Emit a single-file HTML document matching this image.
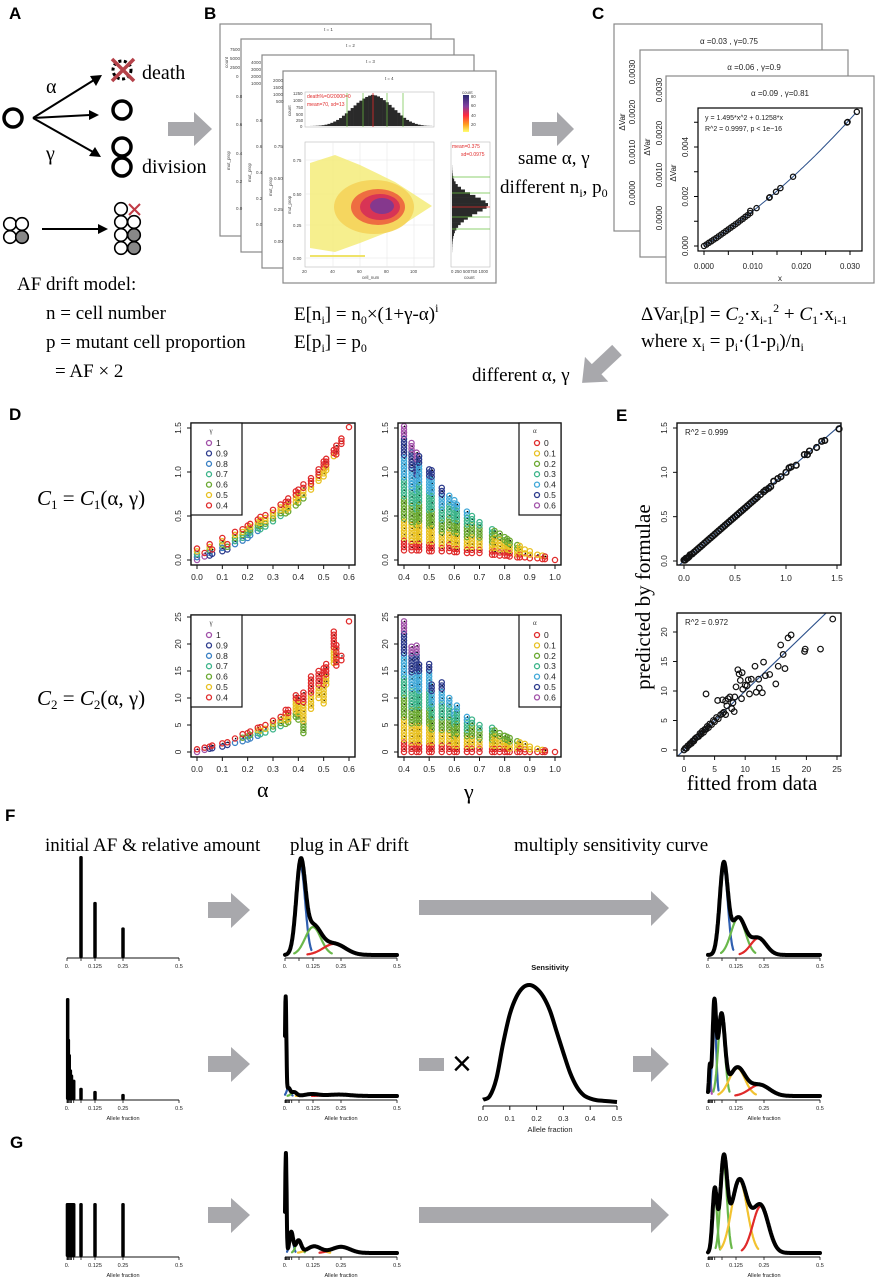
<!DOCTYPE html>
<html><head><meta charset="utf-8"><title>AF drift model figure</title>
<style>
html,body{margin:0;padding:0;background:#fff;}
svg{display:block;}
.ser{font-family:"Liberation Serif",serif;}
.san{font-family:"Liberation Sans",sans-serif;}
</style></head>
<body>
<svg id="fig" width="876" height="1280" viewBox="0 0 876 1280" xmlns="http://www.w3.org/2000/svg">
<rect x="0" y="0" width="876" height="1280" fill="#fff"/>
<g class="san" font-weight="bold" font-size="17" fill="#000">
<text x="9" y="19">A</text>
<text x="204" y="19">B</text>
<text x="592" y="19">C</text>
<text x="9" y="420">D</text>
<text x="616" y="421">E</text>
<text x="5" y="821">F</text>
<text x="10" y="1148">G</text>
</g>

<g stroke="#000" fill="none">
<circle cx="13" cy="118" r="9" stroke-width="3.5"/>
<g stroke-width="2">
<line x1="33" y1="118" x2="94" y2="80"/><polygon points="102,75 90,76 96,86" fill="#000" stroke="none"/>
<line x1="33" y1="118" x2="90" y2="115"/><polygon points="99,115 89,110 89,120" fill="#000" stroke="none"/>
<line x1="33" y1="118" x2="93" y2="152"/><polygon points="101,157 95,147 89,156" fill="#000" stroke="none"/>
</g>
<circle cx="122" cy="70" r="9" stroke-width="3" stroke-dasharray="3,2.5"/>
<line x1="112" y1="59" x2="134" y2="81" stroke="#b5424a" stroke-width="3.5"/>
<line x1="134" y1="59" x2="112" y2="81" stroke="#b5424a" stroke-width="3.5"/>
<circle cx="122" cy="110" r="9" stroke-width="3.5"/>
<circle cx="122" cy="147" r="9" stroke-width="3.5"/>
<circle cx="122" cy="167" r="9" stroke-width="3.5"/>
<g stroke-width="1.6">
<circle cx="10" cy="224" r="6.3" fill="#fff"/><circle cx="22" cy="224" r="6.3" fill="#fff"/>
<circle cx="10" cy="237" r="6.3" fill="#fff"/><circle cx="22" cy="237" r="6.3" fill="#888"/>
</g>
<line x1="42" y1="229" x2="100" y2="229" stroke-width="2"/>
<polygon points="108,229 98,224 98,234" fill="#000" stroke="none"/>
<g stroke-width="1.6">
<circle cx="121" cy="209" r="6.3" fill="#fff"/>
<circle cx="121" cy="222" r="6.3" fill="#fff"/><circle cx="134" cy="222" r="6.3" fill="#fff"/>
<circle cx="121" cy="235" r="6.3" fill="#fff"/><circle cx="134" cy="235" r="6.3" fill="#888"/>
<circle cx="121" cy="248" r="6.3" fill="#fff"/><circle cx="134" cy="248" r="6.3" fill="#888"/>
<line x1="129" y1="204" x2="140" y2="215" stroke="#c03a45" stroke-width="2"/>
<line x1="140" y1="204" x2="129" y2="215" stroke="#c03a45" stroke-width="2"/>
</g>
</g>
<g class="ser" font-size="20" fill="#000">
<text x="46" y="93">α</text>
<text x="46" y="160">γ</text>
<text x="142" y="79">death</text>
<text x="142" y="173">division</text>
<text x="17" y="290" font-size="19">AF drift model:</text>
<text x="46" y="319" font-size="19">n = cell number</text>
<text x="46" y="348" font-size="19">p = mutant cell proportion</text>
<text x="55" y="377" font-size="19">= AF × 2</text>
</g>

<g fill="#a8a8ac">
<polygon points="168,122 194,122 194,112 212,129 194,146 194,136 168,136"/>
<polygon points="532,122 557,122 557,112 574,129 557,146 557,136 532,136"/>
<polygon points="0,-7 28,-7 28,-17 48,0 28,17 28,7 0,7" transform="translate(617,350) rotate(136.7)"/>
<polygon points="208,902 231,902 231,893 250,910 231,928 231,918 208,918"/>
<polygon points="419,900 651,900 651,891 669,908 651,926 651,915 419,915"/>
<polygon points="208,1056 231,1056 231,1047 250,1064 231,1082 231,1072 208,1072"/>
<rect x="419" y="1058" width="25" height="13"/>
<polygon points="633,1056 651,1056 651,1047 669,1064 651,1082 651,1072 633,1072"/>
<polygon points="208,1207 231,1207 231,1198 250,1215 231,1233 231,1223 208,1223"/>
<polygon points="419,1207 651,1207 651,1198 669,1215 651,1233 651,1223 419,1223"/>
</g>

<g>
<rect x="220" y="24" width="211" height="212" fill="#fff" stroke="#888" stroke-width="1.2"/>
<rect x="241" y="39" width="213" height="213" fill="#fff" stroke="#888" stroke-width="1.2"/>
<rect x="262" y="55" width="212" height="213" fill="#fff" stroke="#888" stroke-width="1.2"/>
<rect x="283" y="71" width="213" height="212" fill="#fff" stroke="#888" stroke-width="1.2"/>
<g class="san" font-size="4.5" fill="#444">
<text x="324" y="31">t = 1</text><text x="346" y="47">t = 2</text><text x="366" y="63">t = 3</text>
<text x="230" y="51">7500</text><text x="230" y="60">5000</text><text x="230" y="69">2500</text><text x="236" y="78">0</text>
<text x="236" y="98">0.8</text><text x="236" y="126">0.6</text><text x="236" y="155">0.4</text><text x="236" y="183">0.2</text><text x="236" y="210">0.0</text>
<text x="251" y="64">4000</text><text x="251" y="71">3000</text><text x="251" y="78">2000</text><text x="251" y="85">1000</text>
<text x="256" y="122">0.8</text><text x="256" y="148">0.6</text><text x="256" y="174">0.4</text><text x="256" y="200">0.2</text><text x="256" y="226">0.0</text>
<text x="273" y="82">2000</text><text x="273" y="89">1500</text><text x="273" y="96">1000</text><text x="276" y="103">500</text>
<text x="274" y="148">0.75</text><text x="274" y="180">0.50</text><text x="274" y="211">0.25</text><text x="274" y="243">0.00</text>
<text x="230" y="170" transform="rotate(-90 230 170)">mut_prop</text>
<text x="251" y="182" transform="rotate(-90 251 182)">mut_prop</text>
<text x="272" y="196" transform="rotate(-90 272 196)">mut_prop</text>
<text x="228" y="68" transform="rotate(-90 228 68)">count</text>
</g>
<rect x="305" y="92" width="129" height="35" fill="#fff" stroke="#bbb" stroke-width="0.6"/>
<g id="bHist"></g>
<rect x="305" y="142" width="129" height="125" fill="#fff" stroke="#bbb" stroke-width="0.6"/>
<g stroke="#e6e6e6" stroke-width="0.6">
<line x1="333" y1="142" x2="333" y2="267"/><line x1="360" y1="142" x2="360" y2="267"/><line x1="387" y1="142" x2="387" y2="267"/><line x1="414" y1="142" x2="414" y2="267"/>
<line x1="305" y1="160" x2="434" y2="160"/><line x1="305" y1="194" x2="434" y2="194"/><line x1="305" y1="225" x2="434" y2="225"/><line x1="305" y1="258" x2="434" y2="258"/>
</g>
<g>
<polygon points="310,163 335,155 360,165 395,182 432,206 398,228 360,243 335,252 310,248" fill="#f4ec7a" opacity="0.85"/>
<rect x="310" y="255" width="55" height="2" fill="#efe36a"/>
<ellipse cx="374" cy="207" rx="40" ry="27" fill="#f5d35a" opacity="0.9"/>
<ellipse cx="378" cy="207" rx="27" ry="18" fill="#ec5a3c" opacity="0.85"/>
<ellipse cx="380" cy="207" rx="20" ry="13" fill="#d2265a" opacity="0.8"/>
<ellipse cx="382" cy="206" rx="12" ry="8" fill="#6a3aa0" opacity="0.75"/>
</g>
<rect x="451" y="142" width="39" height="125" fill="#fff" stroke="#bbb" stroke-width="0.6"/>
<g id="bHist2"></g>
<defs><linearGradient id="cbar" x1="0" y1="0" x2="0" y2="1"><stop offset="0" stop-color="#2a2a70"/><stop offset="0.3" stop-color="#8040a0"/><stop offset="0.55" stop-color="#ff2a40"/><stop offset="0.8" stop-color="#ffa020"/><stop offset="1" stop-color="#ffff70"/></linearGradient></defs>
<rect x="463" y="95" width="6" height="37" fill="url(#cbar)"/>
<g class="san" font-size="4.3" fill="#444">
<text x="462" y="94">count</text><text x="471" y="98">80</text><text x="471" y="107">60</text><text x="471" y="117">40</text><text x="471" y="126">20</text>
<text x="293" y="95">1250</text><text x="293" y="102">1000</text><text x="296" y="109">750</text><text x="296" y="116">500</text><text x="296" y="122">250</text><text x="300" y="128">0</text>
<text x="293" y="162">0.75</text><text x="293" y="196">0.50</text><text x="293" y="227">0.25</text><text x="293" y="260">0.00</text>
<text x="302" y="273">20</text><text x="330" y="273">40</text><text x="357" y="273">60</text><text x="384" y="273">80</text><text x="410" y="273">100</text>
<text x="362" y="279">cell_num</text><text x="464" y="279">count</text>
<text x="451" y="273">0  250 500750 1000</text>
<text x="291" y="214" transform="rotate(-90 291 214)">mut_prop</text>
<text x="291" y="116" transform="rotate(-90 291 116)">count</text>
<text x="385" y="80" fill="#333">t = 4</text>
</g>
<g class="san" font-size="5" fill="#e02a2a">
<text x="307" y="98">death%=0/20000=0</text><text x="307" y="106">mean=70, sd=13</text>
<text x="452" y="148">mean=0.375</text><text x="461" y="156">sd=0.0975</text>
</g>
</g>
<g class="ser" font-size="19" fill="#000">
<text x="294" y="320">E[n<tspan font-size="12" dy="4">i</tspan><tspan dy="-4">] = n</tspan><tspan font-size="12" dy="4">0</tspan><tspan dy="-4">×(1+γ-α)</tspan><tspan font-size="12" dy="-8">i</tspan></text>
<text x="294" y="348">E[p<tspan font-size="12" dy="4">i</tspan><tspan dy="-4">] = p</tspan><tspan font-size="12" dy="4">0</tspan></text>
<text x="518" y="164">same α, γ</text>
<text x="500" y="193">different n<tspan font-size="12" dy="4">i</tspan><tspan dy="-4">, p</tspan><tspan font-size="12" dy="4">0</tspan></text>
<text x="641" y="320">ΔVar<tspan font-size="12" dy="4">i</tspan><tspan dy="-4">[p] = </tspan><tspan font-style="italic">C</tspan><tspan font-size="12" dy="4">2</tspan><tspan dy="-4">·x</tspan><tspan font-size="12" dy="4">i-1</tspan><tspan font-size="12" dy="-12">2</tspan><tspan dy="8"> + </tspan><tspan font-style="italic">C</tspan><tspan font-size="12" dy="4">1</tspan><tspan dy="-4">·x</tspan><tspan font-size="12" dy="4">i-1</tspan></text>
<text x="641" y="347">where x<tspan font-size="12" dy="4">i</tspan><tspan dy="-4"> = p</tspan><tspan font-size="12" dy="4">i</tspan><tspan dy="-4">·(1-p</tspan><tspan font-size="12" dy="4">i</tspan><tspan dy="-4">)/n</tspan><tspan font-size="12" dy="4">i</tspan></text>
<text x="472" y="381">different α, γ</text>
<text x="37" y="505" font-size="21"><tspan font-style="italic">C</tspan><tspan font-size="13" dy="4">1</tspan><tspan dy="-4"> = </tspan><tspan font-style="italic">C</tspan><tspan font-size="13" dy="4">1</tspan><tspan dy="-4">(α, γ)</tspan></text>
<text x="37" y="705" font-size="21"><tspan font-style="italic">C</tspan><tspan font-size="13" dy="4">2</tspan><tspan dy="-4"> = </tspan><tspan font-style="italic">C</tspan><tspan font-size="13" dy="4">2</tspan><tspan dy="-4">(α, γ)</tspan></text>
<text x="257" y="797" font-size="22">α</text>
<text x="464" y="799" font-size="22">γ</text>
<text x="752" y="790" font-size="21" text-anchor="middle">fitted from data</text>
<text x="650" y="597" font-size="21" text-anchor="middle" transform="rotate(-90 650 597)">predicted by formulae</text>
<text x="45" y="851" font-size="19">initial AF &amp; relative amount</text>
<text x="290" y="851" font-size="19">plug in AF drift</text>
<text x="514" y="851" font-size="19">multiply sensitivity curve</text>
</g>
<text x="452" y="1075" class="san" font-size="34" fill="#000">×</text>

<g>
<rect x="614" y="24" width="208" height="207" fill="#fff" stroke="#888" stroke-width="1.2"/>
<rect x="640" y="50" width="208" height="207" fill="#fff" stroke="#888" stroke-width="1.2"/>
<rect x="666" y="76" width="208" height="207" fill="#fff" stroke="#888" stroke-width="1.2"/>
<g class="san" font-size="8" fill="#222">
<text x="729" y="44" text-anchor="middle">α =0.03 , γ=0.75</text>
<text x="754" y="70" text-anchor="middle">α =0.06 , γ=0.9</text>
<text x="780" y="96" text-anchor="middle">α =0.09 , γ=0.81</text>
<text x="635" y="72" text-anchor="middle" transform="rotate(-90 635 72)">0.0030</text>
<text x="635" y="112" text-anchor="middle" transform="rotate(-90 635 112)">0.0020</text>
<text x="635" y="152" text-anchor="middle" transform="rotate(-90 635 152)">0.0010</text>
<text x="635" y="193" text-anchor="middle" transform="rotate(-90 635 193)">0.0000</text>
<text x="625" y="122" text-anchor="middle" transform="rotate(-90 625 122)">ΔVar</text>
<text x="662" y="90" text-anchor="middle" transform="rotate(-90 662 90)">0.0030</text>
<text x="662" y="133" text-anchor="middle" transform="rotate(-90 662 133)">0.0020</text>
<text x="662" y="175" text-anchor="middle" transform="rotate(-90 662 175)">0.0010</text>
<text x="662" y="218" text-anchor="middle" transform="rotate(-90 662 218)">0.0000</text>
<text x="650" y="147" text-anchor="middle" transform="rotate(-90 650 147)">ΔVar</text>
<text x="676" y="173" text-anchor="middle" transform="rotate(-90 676 173)">ΔVar</text>
<text x="780" y="281" text-anchor="middle">x</text>
<text x="705" y="120" font-size="7">y = 1.495*x^2 + 0.1258*x</text>
<text x="705" y="131" font-size="7">R^2 = 0.9997, p &lt; 1e−16</text>
</g>
<g id="cPlot"></g>
</g>

<g id="dPlots"></g>
<g id="ePlots"></g>
<g id="fPlots"></g>
</svg>

<script>
const bHistCounts=[2,5,10,18,30,50,80,120,170,230,300,390,480,580,680,780,880,960,1040,1100,1150,1180,1160,1120,1060,980,900,800,700,600,500,400,310,230,170,120,80,50,30,15,8,4];
const bPropCounts=[3,5,8,14,22,35,55,80,120,170,240,330,440,560,700,850,960,1000,930,800,650,500,360,250,160,100,60,35,18,10,5,3];
const cX=[0,0.0005,0.001,0.0015,0.002,0.0025,0.003,0.0035,0.004,0.0045,0.005,0.0055,0.006,0.0065,0.007,0.0075,0.008,0.0085,0.009,0.0095,0.0095,0.0108,0.0134,0.0135,0.0148,0.0157,0.0183,0.0294,0.0295,0.0314];
const cY=[0,0.00006,0.00013,0.00019,0.00026,0.00032,0.00039,0.00046,0.00053,0.0006,0.00067,0.00074,0.00081,0.00088,0.00095,0.00103,0.0011,0.00118,0.00125,0.00133,0.00142,0.00153,0.00195,0.00197,0.00219,0.00234,0.0028,0.00499,0.00501,0.00542];
const cFitCoef=[1.495,0.1258];
const cXTicks=[0,0.01,0.02,0.03];
const cXTickLabels=["0.000","0.010","0.020","0.030"];
const cYTicks=[0,0.002,0.004];
const cYTickLabels=["0.000","0.002","0.004"];

const gammaLevels=["1","0.9","0.8","0.7","0.6","0.5","0.4"];
const alphaLevels=["0","0.1","0.2","0.3","0.4","0.5","0.6"];
const dAlpha=[0,0.03,0.05,0.06,0.1,0.12,0.15,0.18,0.2,0.21,0.24,0.25,0.27,0.3,0.33,0.35,0.36,0.39,0.4,0.42,0.45,0.48,0.5,0.51,0.54,0.55,0.57,0.6];
const c1AlphaLo=[0,0.04,0.05,0.07,0.1,0.12,0.18,0.22,0.25,0.28,0.33,0.35,0.38,0.44,0.5,0.53,0.55,0.62,0.65,0.7,0.8,0.9,0.95,1.02,1.18,1.2,1.32,1.51];
const c1AlphaHi=[0.13,0.08,0.18,0.12,0.25,0.18,0.32,0.35,0.39,0.41,0.46,0.49,0.51,0.57,0.63,0.66,0.7,0.78,0.8,0.86,0.93,1.03,1.12,1.15,1.25,1.3,1.38,1.51];
const c2AlphaLo=[0,0.4,0.6,0.7,1,1.3,1.7,2,2.3,2.5,3,3.3,3.6,4.2,4.8,5.2,5.5,6.5,6,3.5,8,10,9,12.5,16.5,16,17,24.2];
const c2AlphaHi=[0.5,0.8,1,1.2,1.6,1.8,2.5,3.3,3.5,3.8,4.5,4.6,5,5.8,6.5,7.8,7.8,10.5,10,11,14,15,15.5,16.3,22.3,19.8,17.8,24.2];
const dGamma=[0.4,0.43,0.45,0.46,0.5,0.51,0.55,0.58,0.6,0.61,0.65,0.67,0.7,0.75,0.76,0.78,0.8,0.81,0.82,0.85,0.86,0.88,0.9,0.93,0.95,0.96,1.0];
const c1GammaHi=[1.52,1.33,1.22,1.18,1.03,1.02,0.82,0.73,0.68,0.63,0.55,0.5,0.43,0.35,0.33,0.3,0.26,0.24,0.22,0.17,0.16,0.12,0.1,0.06,0.05,0.04,0];
const c1GammaLo=[0.11,0.11,0.11,0.11,0.1,0.1,0.1,0.1,0.09,0.09,0.08,0.08,0.08,0.06,0.06,0.05,0.05,0.05,0.04,0.03,0.03,0.03,0.02,0.02,0.01,0.01,0];
const c2GammaHi=[24.2,19.5,19.7,16.2,16.3,12.5,12.9,10,7.5,8.6,6.5,6,5,4.5,4,3.5,3,2.8,2.6,2,1.8,1.5,1,0.6,0.4,0.3,0];
const c2GammaLo=[0,0,0,0,0,0,0,0,0,0,0,0,0,0,0,0,0,0,0,0,0,0,0,0,0,0,0];
const dAlphaTicks=[0,0.1,0.2,0.3,0.4,0.5,0.6];
const dGammaTicks=[0.4,0.5,0.6,0.7,0.8,0.9,1.0];
const c1Ticks=[0,0.5,1.0,1.5];
const c1TickLabels=["0.0","0.5","1.0","1.5"];
const c2Ticks=[0,5,10,15,20,25];

const e1Fit=[0,0.01,0.02,0.03,0.04,0.05,0.06,0.08,0.1,0.12,0.14,0.16,0.18,0.2,0.22,0.24,0.26,0.28,0.3,0.32,0.34,0.36,0.38,0.4,0.42,0.44,0.46,0.48,0.5,0.52,0.54,0.56,0.58,0.6,0.62,0.64,0.66,0.68,0.7,0.72,0.75,0.78,0.8,0.83,0.85,0.88,0.92,0.95,1.0,1.03,1.05,1.1,1.18,1.21,1.23,1.3,1.35,1.38,1.52];
const e1Pred=[0.01,0.01,0.03,0.03,0.04,0.05,0.07,0.08,0.1,0.12,0.14,0.16,0.18,0.2,0.22,0.24,0.26,0.28,0.3,0.32,0.34,0.36,0.38,0.4,0.42,0.44,0.46,0.48,0.5,0.52,0.54,0.56,0.58,0.6,0.62,0.64,0.66,0.68,0.7,0.72,0.75,0.78,0.8,0.82,0.84,0.9,0.93,0.95,1.0,1.05,1.06,1.08,1.2,1.2,1.24,1.28,1.35,1.36,1.49];
const e2Fit=[0,0.2,0.4,0.6,0.8,1,1.2,1.4,1.6,1.8,2,2.2,2.4,2.6,2.8,3,3.2,3.4,3.6,3.8,4,4.2,4.5,4.8,5,5.3,5.6,6,6.3,6.5,3.6,5.5,6.3,6.8,7,7.2,7.5,8,8.2,8.5,8.8,9,9.2,9.5,9.6,10,10.3,10.5,11,11.6,11.8,12.3,12.8,13,13.3,14,15,15.4,15.8,16.2,16.5,17,17.5,19.7,19.8,22.3,24.3,6.8,7.8,8.3,9.4,10.7,12.2];
const e2Pred=[0,0.3,0.3,0.7,0.8,1.1,1.1,1.5,1.5,1.9,2.1,2.2,2.3,2.8,2.7,3.2,3,3.5,3.5,4,3.8,4.4,4.3,5,4.8,5.5,5.3,6,6.2,6.4,9.5,8.4,8.5,8.3,7.5,8.7,9,8,6.5,10.7,13.6,12.9,11.8,13.1,10.3,11,10.9,11.9,12,14.2,9.8,10.5,9.7,14.9,12.6,12.8,11.2,14.2,17.8,16.2,13.8,19,19.5,16.7,17.1,17.1,22.2,6,7,9,8.7,9.5,12];
const e1Ticks=[0,0.5,1.0,1.5];
const e1TickLabels=["0.0","0.5","1.0","1.5"];
const e2XTicks=[0,5,10,15,20,25];
const e2YTicks=[0,5,10,15,20];

const fBarAF1=[0.0625,0.125,0.25];
const fBarH1=[1,0.55,0.3];
const fBarAF2=[0.003,0.006,0.01,0.015,0.02,0.03,0.0625,0.125,0.25];
const fBarH2=[1,0.6,0.45,0.3,0.25,0.2,0.12,0.09,0.06];
const gBarAF=[0.002,0.004,0.006,0.008,0.01,0.013,0.016,0.02,0.025,0.03,0.0625,0.125,0.25];
const gBarH=[1,1,1,1,1,1,1,1,1,1,1,1,1];
const fRug2=[0.003,0.006,0.01,0.015,0.02,0.03];
const afTicks=[0,0.125,0.25,0.5];
const afTickLabels=["0.","0.125","0.25","0.5"];
const colBlue="#2f5fb0",colGreen="#6ab84a",colRed="#e02a2a",colYellow="#f2c230",colPurple="#b050b0";
const f2Mean=[0.07,0.125,0.22], f2Sd=[0.02,0.035,0.05], f2Amp=[0.95,0.3,0.12];
const f2Col=[colBlue,colGreen,colRed];
const f3Mean=[0.07,0.135,0.225], f3Sd=[0.018,0.032,0.035], f3Amp=[0.95,0.4,0.18];
const f5Mean=[0.003,0.015,0.04,0.12,0.24], f5Sd=[0.003,0.008,0.012,0.03,0.05], f5Amp=[1,0.08,0.04,0.02,0.015];
const f5Col=[colPurple,colBlue,colGreen,colYellow,colRed];
const f6Mean=[0.008,0.028,0.06,0.13,0.23], f6Sd=[0.004,0.008,0.015,0.035,0.045], f6Amp=[0.3,0.95,0.85,0.3,0.12];
const g2Mean=[0.004,0.028,0.06,0.13,0.25], g2Sd=[0.003,0.008,0.012,0.03,0.04], g2Amp=[1.05,0.22,0.13,0.07,0.065];
const g3Mean=[0.03,0.07,0.14,0.235], g3Sd=[0.01,0.015,0.035,0.035], g3Amp=[0.6,0.85,0.7,0.45];
const g3Col=[colGreen,colGreen,colYellow,colRed];
const sensAF=[0,0.025,0.05,0.075,0.1,0.125,0.15,0.175,0.2,0.225,0.25,0.275,0.3,0.325,0.35,0.375,0.4,0.425,0.45,0.475,0.5];
const sensVal=[0.02,0.05,0.2,0.5,0.75,0.9,0.98,1.0,0.97,0.9,0.78,0.6,0.42,0.25,0.13,0.06,0.03,0.015,0.01,0.005,0.0];
const sensTicks=[0,0.1,0.2,0.3,0.4,0.5];
const sensTickLabels=["0.0","0.1","0.2","0.3","0.4","0.5"];

const NS="http://www.w3.org/2000/svg";
function mk(tag,attrs,parent){const e=document.createElementNS(NS,tag);for(const k in attrs)e.setAttribute(k,attrs[k]);parent.appendChild(e);return e;}
function lin(d0,d1,r0,r1){return v=>r0+(v-d0)/(d1-d0)*(r1-r0);}
const gPal=["#a050a8","#2c3a8c","#3a80c4","#3cb48a","#6aa830","#e8c020","#e02a2a"];
const aPal=["#e02a2a","#e8c020","#6aa830","#3cb48a","#40a8d8","#2c3a8c","#a050a8"];

const bH=document.getElementById("bHist");
const bx=lin(0,bHistCounts.length,310,432), by=lin(0,1250,126,93);
bHistCounts.forEach((v,i)=>{
  const r=mk("rect",{x:bx(i),y:by(v),width:(122/bHistCounts.length)+0.3,height:126-by(v),fill:"#2a2a2a"},bH);
  
  
});
[347,363,387,403].forEach(x=>{
  const l=mk("line",{x1:x,y1:93,x2:x,y2:127,stroke:"#6ac040","stroke-width":0.7},bH);
  
  
});
const rl=mk("line",{x1:373,y1:93,x2:373,y2:127,stroke:"#e02a2a","stroke-width":0.8},bH);


const bH2=document.getElementById("bHist2");
const py=lin(0,bPropCounts.length,252,165), px=lin(0,1000,452,488);
bPropCounts.forEach((v,i)=>{
  const r=mk("rect",{x:452,y:py(i+1),width:px(v)-452,height:(87/bPropCounts.length)+0.3,fill:"#2a2a2a"},bH2);
  
  
});
[177,193,207,217,229].forEach(y=>{
  const l=mk("line",{x1:452,y1:y,x2:490,y2:y,stroke:y===207?"#e02a2a":"#6ac040","stroke-width":0.7},bH2);
  
  
});

const cG=document.getElementById("cPlot");
const cx=lin(0,0.03,704,850), cy=lin(0,0.004,246,147);
const cBox=mk("rect",{x:698,y:108,width:164,height:143,fill:"none",stroke:"#000","stroke-width":1.2},cG);


cXTicks.forEach((t,i)=>{
  mk("line",{x1:cx(t),y1:251,x2:cx(t),y2:255,stroke:"#000"},cG);
  const tx=mk("text",{x:cx(t),y:269,"font-size":8,"text-anchor":"middle","font-family":"Liberation Sans, sans-serif",fill:"#222"},cG);
  tx.textContent=cXTickLabels[i];
  
  
});
[0.005,0.015,0.025].forEach(t=>mk("line",{x1:cx(t),y1:251,x2:cx(t),y2:255,stroke:"#000"},cG));
[0,0.001,0.002,0.003,0.004,0.005].forEach(t=>mk("line",{x1:694,y1:cy(t),x2:698,y2:cy(t),stroke:"#000"},cG));
cYTicks.forEach((t,i)=>{
  const tx=mk("text",{x:688,y:cy(t),"font-size":8,"text-anchor":"middle","font-family":"Liberation Sans, sans-serif",fill:"#222",transform:`rotate(-90 688 ${cy(t)})`},cG);
  tx.textContent=cYTickLabels[i];
  
  
});
let cd="";
for(let x=0;x<=0.0316;x+=0.0004){cd+=(cd?"L":"M")+cx(x).toFixed(1)+","+cy(cFitCoef[0]*x*x+cFitCoef[1]*x).toFixed(1);}
const cLine=mk("path",{d:cd,fill:"none",stroke:"#2a4f8a","stroke-width":1},cG);


cX.forEach((x,i)=>{
  const p=mk("circle",{cx:cx(x),cy:cy(cY[i]),r:2.6,fill:"none",stroke:"#111","stroke-width":1.3},cG);
  
  
});

const dG=document.getElementById("dPlots");
function dAxes(x0,x1,y0,y1,xs,ys,xt,xtl,yt,ytl,name){
  const b=mk("rect",{x:x0,y:y0,width:x1-x0,height:y1-y0,fill:"none",stroke:"#111","stroke-width":1.4},dG);
  
  
  xt.forEach((t,i)=>{
    mk("line",{x1:xs(t),y1:y1,x2:xs(t),y2:y1+4,stroke:"#111"},dG);
    const tx=mk("text",{x:xs(t),y:y1+15,"font-size":8.5,"text-anchor":"middle","font-family":"Liberation Sans, sans-serif",fill:"#222"},dG);
    tx.textContent=xtl[i];
    
    
  });
  yt.forEach((t,i)=>{
    mk("line",{x1:x0-4,y1:ys(t),x2:x0,y2:ys(t),stroke:"#111"},dG);
    const tx=mk("text",{x:x0-10,y:ys(t),"font-size":8.5,"text-anchor":"middle","font-family":"Liberation Sans, sans-serif",fill:"#222",transform:`rotate(-90 ${x0-10} ${ys(t)})`},dG);
    tx.textContent=ytl[i];
    
    
  });
}
function dLegend(x0,x1,y0,y1,title,labels,pal,name){
  const b=mk("rect",{x:x0,y:y0,width:x1-x0,height:y1-y0,fill:"#fff",stroke:"#111","stroke-width":1.2},dG);
  
  
  const t=mk("text",{x:x0+(x1-x0)/2-7,y:y0+10,"font-size":7,"font-family":"Liberation Serif, serif",fill:"#333"},dG);
  t.textContent=title;
  labels.forEach((l,i)=>{
    const c=mk("circle",{cx:x0+18,cy:y0+20+i*10.4,r:2.5,fill:"none",stroke:pal[i],"stroke-width":1.3},dG);
    
    
    const tx=mk("text",{x:x0+25,y:y0+23+i*10.4,"font-size":8.5,"font-family":"Liberation Sans, sans-serif",fill:"#222"},dG);
    tx.textContent=l;
    
    
  });
}
function dColumns(xs,ys,xv,lo,hi,colorFn,name){
  xv.forEach((x,i)=>{
    const yLo=ys(lo[i]), yHi=ys(hi[i]);
    const n=Math.max(1,Math.round((yLo-yHi)/3.2)+1);
    for(let k=0;k<n;k++){
      const t=n===1?1:k/(n-1);
      const y=yLo+(yHi-yLo)*t;
      const c=mk("circle",{cx:xs(x),cy:y,r:2.6,fill:"none",stroke:colorFn(x,t),"stroke-width":1.3},dG);
      
      
      if(k%2===1){mk("circle",{cx:xs(x)+0.6,cy:y,r:0.75,fill:"#000"},dG);}
    }
  });
}
const alphaColor=(a,t)=>{const b=Math.min(6,Math.round(a/0.6*6));return gPal[Math.round(b+t*(6-b))];};
const gammaColor=(g,t)=>{const top=Math.max(0,Math.round((1-g)/0.6*6));return aPal[Math.round(t*top)];};
const ax1=lin(0,0.6,197,349), ax2=lin(0.4,1.0,404,555);
const yc1a=lin(0,1.5,560,428), yc2a=lin(0,25,752,617);
dColumns(ax1,yc1a,dAlpha,c1AlphaLo,c1AlphaHi,alphaColor,"c1-alpha");
dColumns(ax2,yc1a,dGamma,c1GammaLo,c1GammaHi,gammaColor,"c1-gamma");
dColumns(ax1,yc2a,dAlpha,c2AlphaLo,c2AlphaHi,alphaColor,"c2-alpha");
dColumns(ax2,yc2a,dGamma,c2GammaLo,c2GammaHi,gammaColor,"c2-gamma");
const aLab=dAlphaTicks.map(v=>v.toFixed(1)), gLab=dGammaTicks.map(v=>v.toFixed(1));
dAxes(191,355,423,565,ax1,yc1a,dAlphaTicks,aLab,c1Ticks,c1TickLabels,"c1-vs-alpha");
dAxes(398,561,423,565,ax2,yc1a,dGammaTicks,gLab,c1Ticks,c1TickLabels,"c1-vs-gamma");
dAxes(191,355,615,757,ax1,yc2a,dAlphaTicks,aLab,c2Ticks,c2Ticks.map(String),"c2-vs-alpha");
dAxes(398,561,615,757,ax2,yc2a,dGammaTicks,gLab,c2Ticks,c2Ticks.map(String),"c2-vs-gamma");
dLegend(191,242,423,515,"γ",gammaLevels,gPal,"c1-alpha-legend");
dLegend(519,561,423,515,"α",alphaLevels,aPal,"c1-gamma-legend");
dLegend(191,242,615,707,"γ",gammaLevels,gPal,"c2-alpha-legend");
dLegend(519,561,615,707,"α",alphaLevels,aPal,"c2-gamma-legend");

const eG=document.getElementById("ePlots");
function ePlot(x0,x1,y0,y1,xs,ys,fit,pred,xt,xtl,yt,ytl,label,name,maxV,sw){
  const clip=mk("clipPath",{id:name+"-clip"},eG);
  mk("rect",{x:x0,y:y0,width:x1-x0,height:y1-y0},clip);
  const ln=mk("line",{x1:xs(-1),y1:ys(-1),x2:xs(maxV),y2:ys(maxV),stroke:"#2a4f8a","stroke-width":1.1,"clip-path":`url(#${name}-clip)`},eG);
  
  
  fit.forEach((f,i)=>{
    const c=mk("circle",{cx:xs(f),cy:ys(pred[i]),r:2.8,fill:"none",stroke:"#111","stroke-width":sw},eG);
    
    
  });
  const b=mk("rect",{x:x0,y:y0,width:x1-x0,height:y1-y0,fill:"none",stroke:"#111","stroke-width":1.4},eG);
  
  
  xt.forEach((t,i)=>{
    mk("line",{x1:xs(t),y1:y1,x2:xs(t),y2:y1+4,stroke:"#111"},eG);
    const tx=mk("text",{x:xs(t),y:y1+16,"font-size":8.5,"text-anchor":"middle","font-family":"Liberation Sans, sans-serif",fill:"#222"},eG);
    tx.textContent=xtl[i];
    
    
  });
  yt.forEach((t,i)=>{
    mk("line",{x1:x0-4,y1:ys(t),x2:x0,y2:ys(t),stroke:"#111"},eG);
    const tx=mk("text",{x:x0-10,y:ys(t),"font-size":8.5,"text-anchor":"middle","font-family":"Liberation Sans, sans-serif",fill:"#222",transform:`rotate(-90 ${x0-10} ${ys(t)})`},eG);
    tx.textContent=ytl[i];
    
    
  });
  const lt=mk("text",{x:x0+8,y:y0+12,"font-size":8,"font-family":"Liberation Sans, sans-serif",fill:"#222"},eG);
  lt.textContent=label;
  
  
}
ePlot(677,841,423,565,lin(0,1.5,684,837),lin(0,1.5,561,428),e1Fit,e1Pred,e1Ticks,e1TickLabels,e1Ticks,e1TickLabels,"R^2 = 0.999","e-c1",2,1.6);
ePlot(677,841,613,756,lin(0,25,684,837),lin(0,20,750,632),e2Fit,e2Pred,e2XTicks,e2XTicks.map(String),e2YTicks,e2YTicks.map(String),"R^2 = 0.972","e-c2",30,1.2);

const fG=document.getElementById("fPlots");
function afAxis(x0,axisY,rug,xlab,name){
  const xs=lin(0,0.5,x0,x0+112);
  const l=mk("line",{x1:xs(0),y1:axisY,x2:xs(0.5),y2:axisY,stroke:"#111","stroke-width":1},fG);
  
  
  afTicks.concat([0.0625]).forEach(t=>mk("line",{x1:xs(t),y1:axisY,x2:xs(t),y2:axisY+3,stroke:"#111","stroke-width":0.8},fG));
  rug.forEach(t=>mk("line",{x1:xs(t),y1:axisY,x2:xs(t),y2:axisY+3,stroke:"#111","stroke-width":0.8},fG));
  afTicks.forEach((t,i)=>{
    const tx=mk("text",{x:xs(t),y:axisY+10,"font-size":5.5,"text-anchor":"middle","font-family":"Liberation Sans, sans-serif",fill:"#222"},fG);
    tx.textContent=afTickLabels[i];
    
    
  });
  if(xlab){
    const tx=mk("text",{x:xs(0.25),y:axisY+20,"font-size":5.5,"text-anchor":"middle","font-family":"Liberation Sans, sans-serif",fill:"#222"},fG);
    tx.textContent="Allele fraction";
    
    
  }
  return xs;
}
function bars(x0,axisY,af,h,hpx,w,name){
  const xs=lin(0,0.5,x0,x0+112);
  af.forEach((a,i)=>{
    const r=mk("rect",{x:xs(a)-w/2,y:axisY-h[i]*hpx,width:w,height:h[i]*hpx,rx:1.5,fill:"#000"},fG);
    
    
  });
}
function gauss(x,m,s){return Math.exp(-0.5*((x-m)/s)*((x-m)/s));}
function density(x0,base,means,sds,amps,cols,k,name){
  const xs=lin(0,0.5,x0,x0+112);
  means.forEach((m,j)=>{
    let d="";
    const a=Math.max(0,m-2.4*sds[j]), b=Math.min(0.5,m+2.4*sds[j]);
    for(let x=a;x<=b+1e-9;x+=0.001){d+=(d?"L":"M")+xs(x).toFixed(1)+","+(base-amps[j]*gauss(x,m,sds[j])*k).toFixed(1);}
    const p=mk("path",{d:d,fill:"none",stroke:cols[j],"stroke-width":2.2,"stroke-linecap":"round"},fG);
    
    
  });
  let d="";
  for(let x=0;x<=0.5001;x+=0.001){let s=0;means.forEach((m,j)=>{s+=amps[j]*gauss(x,m,sds[j]);});d+=(d?"L":"M")+xs(x).toFixed(1)+","+(base-s*k).toFixed(1);}
  const p=mk("path",{d:d,fill:"none",stroke:"#000","stroke-width":4,"stroke-linejoin":"round","stroke-linecap":"round"},fG);
  
  
}
afAxis(67,958,[],false,"f1-initial");
bars(67,958,fBarAF1,fBarH1,102,3.5,"f1-initial");
afAxis(285,958,[],false,"f1-drift");
density(285,955,f2Mean,f2Sd,f2Amp,f2Col,93,"f1-drift");
afAxis(708,958,[],false,"f1-final");
density(708,955,f3Mean,f3Sd,f3Amp,f2Col,93,"f1-final");
afAxis(67,1100,fRug2,true,"f2-initial");
bars(67,1100,fBarAF2,fBarH2,102,3.5,"f2-initial");
afAxis(285,1100,fRug2,true,"f2-drift");
density(285,1096,f5Mean,f5Sd,f5Amp,f5Col,97,"f2-drift");
afAxis(708,1100,fRug2,true,"f2-final");
density(708,1096,f6Mean,f6Sd,f6Amp,f5Col,93,"f2-final");
{
  const xs=lin(0,0.5,483,617), ys=lin(0,1,1102,985);
  const l=mk("line",{x1:483,y1:1106,x2:617,y2:1106,stroke:"#111"},fG);
  
  
  sensTicks.forEach((t,i)=>{
    mk("line",{x1:xs(t),y1:1106,x2:xs(t),y2:1110,stroke:"#111"},fG);
    const tx=mk("text",{x:xs(t),y:1121,"font-size":7.5,"text-anchor":"middle","font-family":"Liberation Sans, sans-serif",fill:"#222"},fG);
    tx.textContent=sensTickLabels[i];
    
    
  });
  const xt=mk("text",{x:550,y:1132,"font-size":7.5,"text-anchor":"middle","font-family":"Liberation Sans, sans-serif",fill:"#222"},fG);
  xt.textContent="Allele fraction";
  
  
  const tt=mk("text",{x:550,y:970,"font-size":7.5,"font-weight":"bold","text-anchor":"middle","font-family":"Liberation Sans, sans-serif",fill:"#111"},fG);
  tt.textContent="Sensitivity";
  
  
  let d="";
  for(let i=0;i<sensAF.length;i++){
    const x=xs(sensAF[i]), y=ys(sensVal[i]);
    if(i===0){d="M"+x+","+y;continue;}
    const p0=i>1?[xs(sensAF[i-2]),ys(sensVal[i-2])]:[xs(sensAF[i-1]),ys(sensVal[i-1])];
    const p1=[xs(sensAF[i-1]),ys(sensVal[i-1])];
    const p3=i<sensAF.length-1?[xs(sensAF[i+1]),ys(sensVal[i+1])]:[x,y];
    d+=`C${p1[0]+(x-p0[0])/6},${p1[1]+(y-p0[1])/6} ${x-(p3[0]-p1[0])/6},${y-(p3[1]-p1[1])/6} ${x},${y}`;
  }
  const p=mk("path",{d:d,fill:"none",stroke:"#000","stroke-width":4,"stroke-linejoin":"round"},fG);
  
  
}
afAxis(67,1257,fRug2,true,"g-initial");
bars(67,1257,gBarAF,gBarH,54,3.5,"g-initial");
afAxis(285,1257,fRug2,true,"g-drift");
density(285,1253,g2Mean,g2Sd,g2Amp,f5Col,95,"g-drift");
afAxis(708,1257,fRug2,true,"g-final");
density(708,1253,g3Mean,g3Sd,g3Amp,g3Col,104,"g-final");
</script>
</body></html>
